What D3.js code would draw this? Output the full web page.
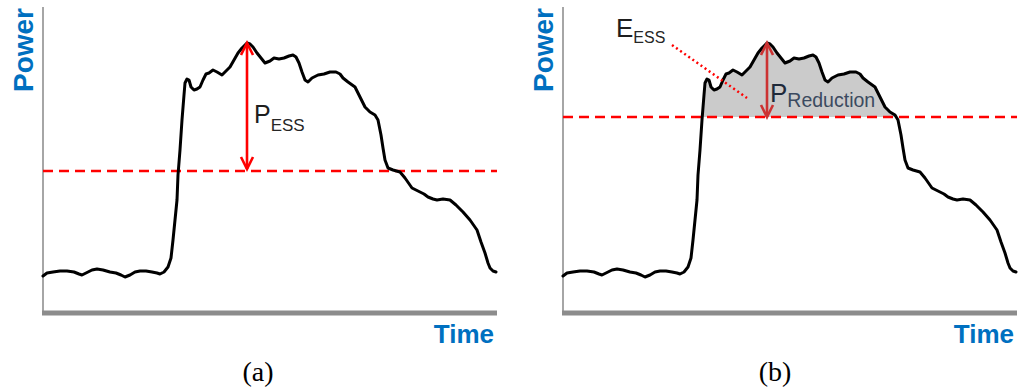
<!DOCTYPE html>
<html>
<head>
<meta charset="utf-8">
<script src="https://cdn.jsdelivr.net/npm/d3@7"></script>
<style>
  body { margin: 0; background: #fff; }
  svg { display: block; }
</style>
</head>
<body>
<div id="chart"></div>
<script>
// load profile (time units, power units)
const time = [0, 2, 5, 8.5, 12, 15.5, 18, 19.5, 21.5, 24.5, 27, 30, 33.5, 36.5, 39, 41, 43.5, 46, 48.5, 51.5,
  54.5, 57, 58.5, 60.5, 62.5, 64, 65, 66, 67, 67.5, 68.5, 69.5, 70.5, 71, 72, 73, 74, 75.5, 77, 78.5,
  80, 81.5, 83, 85, 87, 89.5, 91.5, 93.5, 95.5, 97.5, 99.5, 102, 103.5, 105, 107, 109, 111, 113.5, 115.5, 118,
  120.5, 123, 125, 126.5, 128, 129.5, 131, 132.5, 134.5, 137.5, 140.5, 143.5, 146.5, 148.5, 150, 152.5, 156, 158.5, 161, 163.5,
  166, 167.5, 169, 170, 171, 172.5, 175, 178.5, 181, 184.5, 187.5, 190.5, 192.5, 195, 197, 200, 203.5, 206.5, 210, 213.5,
  217, 219, 221, 222.5, 223.5, 225, 226.5];
const power = [18, 19.5, 20, 20.5, 20.5, 20, 19, 18.5, 19.5, 21, 21.5, 21, 20, 19.5, 18.5, 17.5, 18.5, 20, 20.5, 20.5,
  20, 19.5, 19, 20, 22.5, 27, 36, 46, 56, 68.5, 81, 96, 108.5, 114.5, 116.5, 116, 112.5, 111, 111.5, 112.5,
  116, 119, 119.5, 121, 120, 118.5, 120.5, 122.5, 126, 129.5, 132, 134.5, 134, 132.5, 129.5, 127, 124.5, 125.5, 127, 126.5,
  127, 128, 128.5, 127.5, 124.5, 120, 116, 115, 117, 118.5, 119, 120, 120, 119, 117, 115, 112.5, 107.5, 102.5, 100,
  98.5, 96, 88.5, 82, 76, 72, 71, 70, 67, 62, 60.5, 59, 57.5, 56.5, 56, 56.5, 56, 53.5, 50, 46,
  41, 35, 29.5, 24.5, 22, 20.5, 20];

const panels = ['(a)', '(b)'];
const limitA = 70.5;   // dashed level, panel (a)
const limitB = 97.5;   // dashed level, panel (b)
const peakTime = 102;
const peakPower = 134.5;

const width = 1023, height = 391;
const panelOffset = 520;
const blue = '#0070c0';

const x = d3.scaleLinear().domain([0, 226.5]).range([43, 496]);
const y = d3.scaleLinear().domain([0, 152]).range([312, 8]);

const data = time.map((t, i) => ({ t, p: power[i] }));

const svg = d3.select('#chart').append('svg')
  .attr('width', width)
  .attr('height', height);

const line = d3.line().x(d => x(d.t)).y(d => y(d.p));

// points of the curve above a level, with crossings inserted
function aboveLevel(level) {
  const pts = [];
  for (let i = 0; i < data.length; i++) {
    const a = data[i];
    if (i > 0) {
      const b = data[i - 1];
      if ((a.p - level) * (b.p - level) < 0) {
        const k = (level - b.p) / (a.p - b.p);
        pts.push({ t: b.t + k * (a.t - b.t), p: level });
      }
    }
    pts.push({ t: a.t, p: Math.max(a.p, level) });
  }
  return pts;
}

function vArrow(g, xp, y1, y2, color) {
  g.append('line')
    .attr('x1', xp).attr('x2', xp)
    .attr('y1', y1).attr('y2', y2)
    .attr('stroke', color).attr('stroke-width', 2.6);
  const head = (tipY, dir) => g.append('path')
    .attr('d', `M${xp - 6},${tipY + dir * 12}L${xp},${tipY}L${xp + 6},${tipY + dir * 12}`)
    .attr('fill', 'none').attr('stroke', color).attr('stroke-width', 2.6)
    .attr('stroke-linejoin', 'miter');
  head(y1, 1);
  head(y2, -1);
}

panels.forEach((label, idx) => {
  const g = svg.append('g').attr('transform', `translate(${idx * panelOffset},0)`);
  const level = idx === 0 ? limitA : limitB;

  // shaded energy area (panel b)
  if (idx === 1) {
    g.append('path')
      .datum(aboveLevel(level))
      .attr('d', d3.area().x(d => x(d.t)).y0(y(level)).y1(d => y(d.p)))
      .attr('fill', '#cbcbcb');
  }

  // axes
  g.append('line')
    .attr('x1', 43).attr('x2', 43)
    .attr('y1', 7).attr('y2', 312)
    .attr('stroke', '#a6a6a6').attr('stroke-width', 2);
  g.append('line')
    .attr('x1', 42).attr('x2', 497)
    .attr('y1', 313).attr('y2', 313)
    .attr('stroke', '#8c8c8c').attr('stroke-width', 5);

  // dashed level line
  g.append('line')
    .attr('x1', x(0)).attr('x2', 497)
    .attr('y1', y(level)).attr('y2', y(level))
    .attr('stroke', '#ff0000').attr('stroke-width', 2.7)
    .attr('stroke-dasharray', '10,6');

  // load curve
  g.append('path')
    .datum(data)
    .attr('d', line)
    .attr('fill', 'none')
    .attr('stroke', '#000')
    .attr('stroke-width', 3)
    .attr('stroke-linejoin', 'round')
    .attr('stroke-linecap', 'round');

  // axis titles
  g.append('text')
    .attr('transform', 'translate(33,8) rotate(-90)')
    .attr('text-anchor', 'end')
    .attr('font-family', 'Liberation Sans, Arial, sans-serif')
    .attr('font-weight', 'bold')
    .attr('font-size', 28)
    .attr('fill', blue)
    .text('Power');
  g.append('text')
    .attr('x', 494).attr('y', 343)
    .attr('text-anchor', 'end')
    .attr('font-family', 'Liberation Sans, Arial, sans-serif')
    .attr('font-weight', 'bold')
    .attr('font-size', 26)
    .attr('fill', blue)
    .text('Time');

  // panel label
  g.append('text')
    .attr('x', idx === 0 ? 258 : 255).attr('y', 381)
    .attr('text-anchor', 'middle')
    .attr('font-family', 'Liberation Serif, Times New Roman, serif')
    .attr('font-size', 28)
    .attr('fill', '#000')
    .text(label);

  const ax = x(peakTime);
  if (idx === 0) {
    vArrow(g, ax, y(peakPower), y(level) - 2, '#ff0000');
    const t = g.append('text')
      .attr('x', ax + 7).attr('y', 123)
      .attr('font-family', 'Liberation Sans, Arial, sans-serif')
      .attr('fill', '#1e1e1e');
    t.append('tspan').attr('font-size', 25).text('P');
    t.append('tspan').attr('font-size', 17).attr('dy', 8).attr('fill', '#262626').text('ESS');
  } else {
    vArrow(g, ax, y(peakPower), y(level), '#cc3333');
    const t = g.append('text')
      .attr('x', ax + 3).attr('y', 102)
      .attr('font-family', 'Liberation Sans, Arial, sans-serif')
      .attr('fill', '#1f2a3a');
    t.append('tspan').attr('font-size', 26).text('P');
    t.append('tspan').attr('font-size', 19.5).attr('dy', 5).attr('fill', '#3b4a60').text('Reduction');

    const e = g.append('text')
      .attr('x', 96).attr('y', 37)
      .attr('font-family', 'Liberation Sans, Arial, sans-serif')
      .attr('fill', '#1e1e1e');
    e.append('tspan').attr('font-size', 26).text('E');
    e.append('tspan').attr('font-size', 16).attr('dy', 6).attr('fill', '#262626').text('ESS');

    // dotted leader from label into shaded area
    g.append('line')
      .attr('x1', x(54.5)).attr('y1', y(133.5))
      .attr('x2', x(92)).attr('y2', y(107))
      .attr('stroke', '#ff0000').attr('stroke-width', 2.5)
      .attr('stroke-dasharray', '2,3');
  }
});
</script>
</body>
</html>
